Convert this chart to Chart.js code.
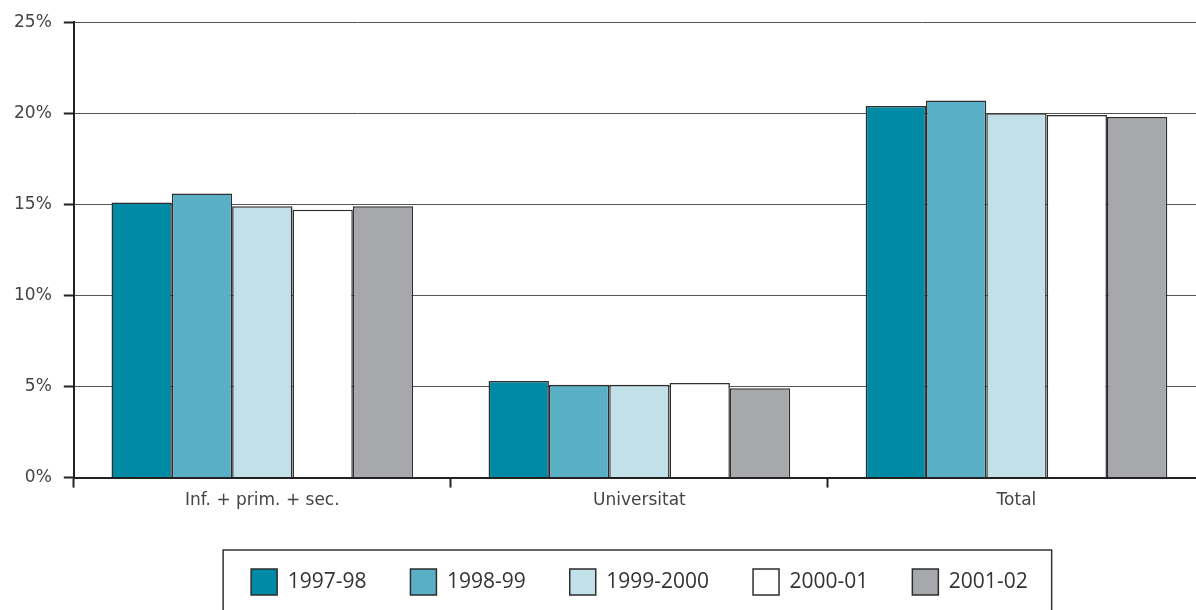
<!DOCTYPE html>
<html>
<head>
<meta charset="utf-8">
<script src="https://cdn.jsdelivr.net/npm/chart.js@4/dist/chart.umd.min.js"></script>
<style>
  html, body { margin: 0; padding: 0; background: #fff; overflow: hidden; }
  #wrap { position: relative; width: 1210px; height: 615px; }
</style>
</head>
<body>
<div id="wrap"><canvas id="grafic"></canvas></div>
<script>
(function () {

	// categories i series
	const categories = ['Inf. + prim. + sec.', 'Universitat', 'Total'];
	const cursos = ['1997-98', '1998-99', '1999-2000', '2000-01', '2001-02'];
	const v1997 = [15.1, 5.3, 20.4];
	const v1998 = [15.6, 5.1, 20.7];
	const v1999 = [14.9, 5.1, 20.0];
	const v2000 = [14.7, 5.2, 19.9];
	const v2001 = [14.9, 4.9, 19.8];
	const yTicks = [0, 5, 10, 15, 20, 25];

	const colors = ['#008aa6', '#59b0c6', '#c2e0e8', '#ffffff', '#a7a8ac'];
	const series = [v1997, v1998, v1999, v2000, v2001];

	// marc del llegenda
	const legendBox = {
		id: 'legendBox',
		afterDraw(chart) {
			const boxes = chart.legend.legendHitBoxes;
			if (!boxes || !boxes.length) return;
			const first = boxes[0];
			const last = boxes[boxes.length - 1];
			const c = chart.ctx;
			c.save();
			c.strokeStyle = '#333';
			c.lineWidth = 1.5;
			const x0 = first.left - 28;
			const x1 = last.left + last.width + 24;
			const y0 = first.top - 19;
			c.beginPath();
			c.moveTo(x0, chart.height + 5);
			c.lineTo(x0, y0);
			c.lineTo(x1, y0);
			c.lineTo(x1, chart.height + 5);
			c.stroke();
			c.restore();
		}
	};

	const ctx = document.getElementById('grafic');

	new Chart(ctx, {
		type: 'bar',
		data: {
			labels: categories,
			datasets: series.map((s, i) => ({
				label: cursos[i],
				data: s,
				backgroundColor: colors[i],
				borderColor: '#2d2d2d',
				borderWidth: 1.5,
				barPercentage: 1,
				categoryPercentage: 0.8
			}))
		},
		options: {
			responsive: true,
			maintainAspectRatio: false,
			animation: false,
			layout: { padding: { left: 2, right: 5, top: 17, bottom: 10 } },
			plugins: {
				tooltip: { enabled: false },
				legend: {
					position: 'bottom',
					fullSize: false,
					labels: {
						boxWidth: 26,
						boxHeight: 26,
						padding: 44,
						color: '#333',
						font: { family: '"Open Sans"', size: 21 }
					}
				}
			},
			scales: {
				x: {
					afterFit: axis => { axis.height += 11; },
					border: { display: true, color: '#222', width: 2 },
					grid: {
						display: true,
						drawOnChartArea: false,
						offset: true,
						tickLength: 10,
						tickWidth: 2,
						tickColor: '#222'
					},
					ticks: {
						color: '#444',
						padding: 3,
						font: { family: '"DejaVu Sans"', size: 17 }
					}
				},
				y: {
					min: 0,
					max: 25,
					afterBuildTicks: axis => { axis.ticks = yTicks.map(v => ({ value: v })); },
					border: { display: true, color: '#222', width: 2 },
					grid: {
						color: '#555',
						lineWidth: 1,
						tickLength: 10,
						tickWidth: 2,
						tickColor: '#222'
					},
					ticks: {
						color: '#444',
						padding: 12,
						font: { family: '"DejaVu Sans"', size: 17 },
						callback: value => value + '%'
					}
				}
			}
		},
		plugins: [legendBox]
	});

})();
</script>
</body>
</html>
